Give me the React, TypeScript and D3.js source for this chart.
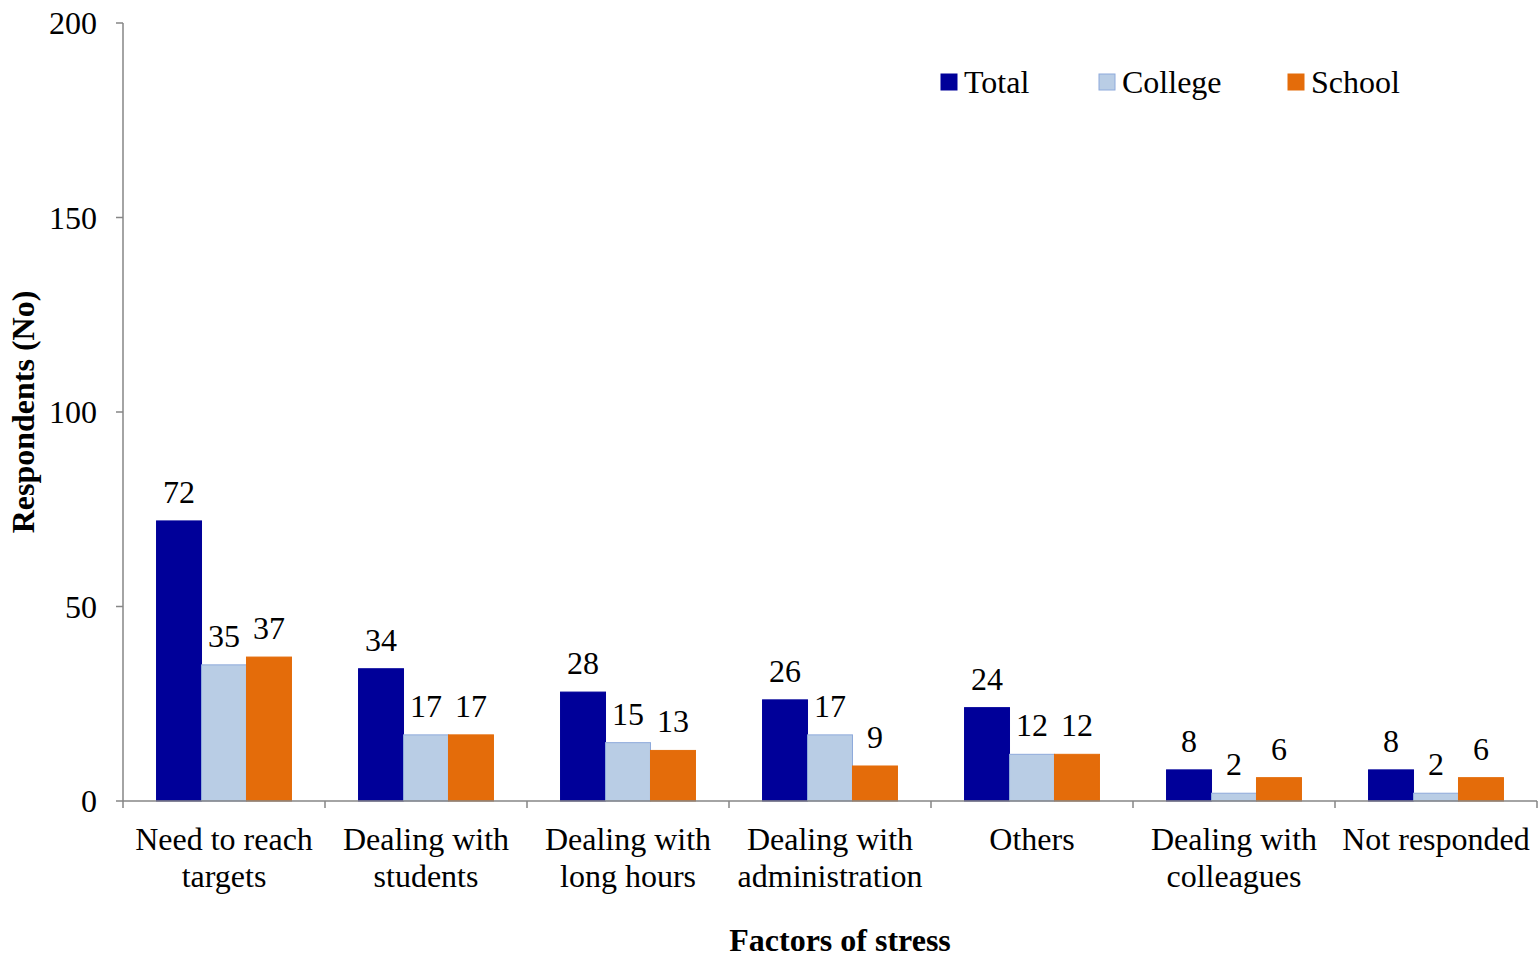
import React from "react";
import * as d3 from "d3";

const categories = [
  ["Need to reach", "targets"],
  ["Dealing with", "students"],
  ["Dealing with", "long hours"],
  ["Dealing with", "administration"],
  ["Others"],
  ["Dealing with", "colleagues"],
  ["Not responded"],
];
const seriesNames = ["Total", "College", "School"];
const totalValues = [72, 34, 28, 26, 24, 8, 8];
const collegeValues = [35, 17, 15, 17, 12, 2, 2];
const schoolValues = [37, 17, 13, 9, 12, 6, 6];
const yTicks = [0, 50, 100, 150, 200];

const fills = ["#000099", "#B9CDE5", "#E46C0A"];
const strokes = ["#000099", "#8EAADB", "#E46C0A"];

const W = 1539;
const H = 958;
const m = { left: 123, right: 1537, top: 23, bottom: 801 };
const font = "'Liberation Serif', 'Times New Roman', serif";
const fs = 32;

export default function App() {
  const series = [totalValues, collegeValues, schoolValues];
  const idx = categories.map((_, i) => i);
  const x0 = d3.scaleBand<number>().domain(idx).range([m.left, m.right]).padding(0);
  const bw = x0.bandwidth();
  const groupW = bw * 0.668;
  const x1 = d3
    .scaleBand<number>()
    .domain([0, 1, 2])
    .range([(bw - groupW) / 2, (bw + groupW) / 2])
    .padding(0);
  const y = d3.scaleLinear().domain([0, 200]).range([m.bottom, m.top]);
  const axisColor = "#868686";

  const legendX = [941, 1099, 1288];

  return (
    <svg width={W} height={H} style={{ display: "block", position: "absolute", left: 0, top: 0 }}>
      <rect width={W} height={H} fill="#fff" />
      {/* bars */}
      {series.map((vals, s) =>
        vals.map((v, i) => {
          const bx = (x0(i) as number) + (x1(s) as number);
          return (
            <rect
              key={`b${s}-${i}`}
              x={bx}
              y={y(v)}
              width={x1.bandwidth()}
              height={y(0) - y(v)}
              fill={fills[s]}
              stroke={strokes[s]}
              strokeWidth={1}
            />
          );
        })
      )}
      {/* value labels */}
      {series.map((vals, s) =>
        vals.map((v, i) => {
          const cx = (x0(i) as number) + (x1(s) as number) + x1.bandwidth() / 2;
          return (
            <text
              key={`l${s}-${i}`}
              x={cx}
              y={y(v) - 18}
              textAnchor="middle"
              fontFamily={font}
              fontSize={fs}
              fill="#000"
            >
              {v}
            </text>
          );
        })
      )}
      {/* y axis */}
      <line x1={m.left} x2={m.left} y1={m.top} y2={m.bottom} stroke={axisColor} strokeWidth={1.5} />
      {yTicks.map((t) => (
        <g key={`yt${t}`}>
          <line x1={m.left - 7} x2={m.left} y1={y(t)} y2={y(t)} stroke={axisColor} strokeWidth={1.5} />
          <text
            x={m.left - 26}
            y={y(t)}
            dy="0.35em"
            textAnchor="end"
            fontFamily={font}
            fontSize={fs}
            fill="#000"
          >
            {t}
          </text>
        </g>
      ))}
      {/* x axis */}
      <line x1={m.left} x2={m.right} y1={m.bottom} y2={m.bottom} stroke={axisColor} strokeWidth={1.5} />
      {idx.concat([idx.length]).map((i) => {
        const xx = i < idx.length ? (x0(i) as number) : m.right;
        return (
          <line key={`xt${i}`} x1={xx} x2={xx} y1={m.bottom} y2={m.bottom + 7} stroke={axisColor} strokeWidth={1.5} />
        );
      })}
      {categories.map((lines, i) => (
        <text
          key={`xl${i}`}
          x={(x0(i) as number) + bw / 2}
          y={850}
          textAnchor="middle"
          fontFamily={font}
          fontSize={fs}
          fill="#000"
        >
          {lines.map((ln, k) => (
            <tspan key={k} x={(x0(i) as number) + bw / 2} dy={k === 0 ? 0 : 37}>
              {ln}
            </tspan>
          ))}
        </text>
      ))}
      {/* axis titles */}
      <text
        x={840}
        y={951}
        textAnchor="middle"
        fontFamily={font}
        fontSize={fs}
        fontWeight="bold"
        fill="#000"
      >
        Factors of stress
      </text>
      <text
        transform={`translate(34, ${(m.top + m.bottom) / 2}) rotate(-90)`}
        textAnchor="middle"
        fontFamily={font}
        fontSize={fs}
        fontWeight="bold"
        fill="#000"
      >
        Respondents (No)
      </text>
      {/* legend */}
      {seriesNames.map((name, s) => (
        <g key={`lg${s}`}>
          <rect
            x={legendX[s]}
            y={74}
            width={16}
            height={16}
            fill={fills[s]}
            stroke={strokes[s]}
            strokeWidth={1}
          />
          <text x={legendX[s] + 23} y={93} fontFamily={font} fontSize={fs} fill="#000">
            {name}
          </text>
        </g>
      ))}
    </svg>
  );
}
